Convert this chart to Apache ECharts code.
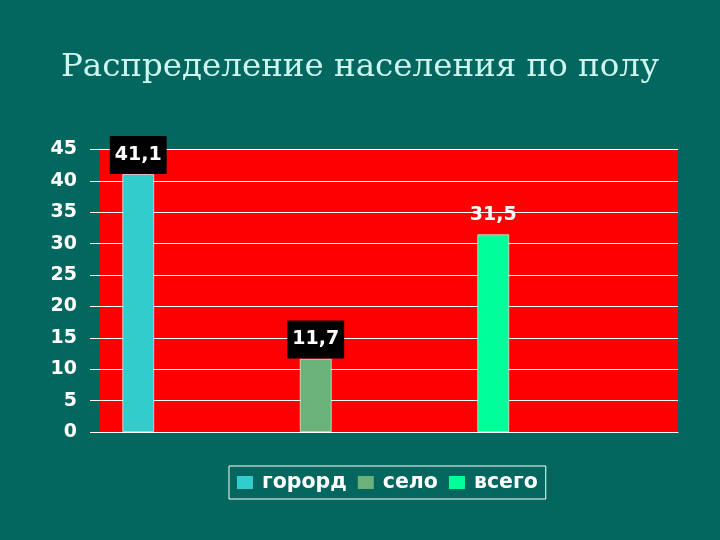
<!DOCTYPE html>
<html><head><meta charset="utf-8">
<script src="https://cdn.jsdelivr.net/npm/echarts@6/dist/echarts.min.js"></script>
<style>html,body{margin:0;padding:0;background:#03665f}#c{width:720px;height:540px}</style>
</head><body><div id="c"></div>
<script>
const titleText = 'Распределение населения по полу';
const categories = [''];
const seriesNames = ['горорд', 'село', 'всего'];
const gorod = [41.1];
const selo = [11.7];
const vsego = [31.5];
const seriesColors = ['#33CCCC', '#6BB27A', '#00FF99'];
const yMin = 0, yMax = 45, yStep = 5;

const fmt = p => String(p.value).replace('.', ',');
const boxLabel = {
  show: true, position: 'top', distance: 0, formatter: fmt,
  color: '#fff', fontFamily: 'DejaVu Sans', fontWeight: 'bold', fontSize: 19,
  lineHeight: 20, backgroundColor: '#000', padding: [9, 5]
};
const plainLabel = Object.assign({}, boxLabel, { backgroundColor: 'transparent' });

function bar(name, data, color, label) {
  return {
    name, type: 'bar', data, barWidth: 32, barGap: '454.7%',
    itemStyle: { color, borderColor: 'rgba(255,255,255,0.6)', borderWidth: 1 },
    label
  };
}

const chart = echarts.init(document.getElementById('c'));
chart.setOption({
  backgroundColor: '#03665f',
  animation: false,
  title: {
    text: titleText, left: 'center', top: 46,
    textStyle: { fontFamily: 'DejaVu Serif', fontWeight: 'normal', fontSize: 32.5, color: '#cdf6ef' }
  },
  legend: {
    data: seriesNames, left: 229, top: 466, width: 318,
    borderColor: '#fff', borderWidth: 1, padding: [6, 8, 6, 8],
    itemWidth: 16, itemHeight: 13, itemGap: 11,
    icon: 'rect',
    itemStyle: { borderWidth: 0 },
    textStyle: { color: '#fff', fontFamily: 'DejaVu Sans', fontWeight: 'bold', fontSize: 20.5, padding: [0, 0, 0, 4] }
  },
  grid: {
    left: 100, right: 42, top: 149.5, bottom: 108,
    show: true, backgroundColor: '#ff0000', borderWidth: 0
  },
  xAxis: {
    type: 'category', data: categories,
    axisLine: { lineStyle: { color: '#fff', width: 1 } },
    axisTick: { show: false }, axisLabel: { show: false }
  },
  yAxis: {
    type: 'value', min: yMin, max: yMax, interval: yStep,
    axisLine: { show: false },
    axisTick: { show: true, inside: false, length: 10, lineStyle: { color: '#fff' } },
    splitLine: { lineStyle: { color: '#fff', width: 1 } },
    axisLabel: { margin: 23, color: '#fff', fontFamily: 'DejaVu Sans', fontWeight: 'bold', fontSize: 19 }
  },
  series: [
    bar(seriesNames[0], gorod, seriesColors[0], boxLabel),
    bar(seriesNames[1], selo, seriesColors[1], boxLabel),
    bar(seriesNames[2], vsego, seriesColors[2], plainLabel),
    { name: '_spacer', type: 'bar', data: ['-'], barWidth: 0.1, barGap: '454.7%' }
  ]
});
</script></body></html>
